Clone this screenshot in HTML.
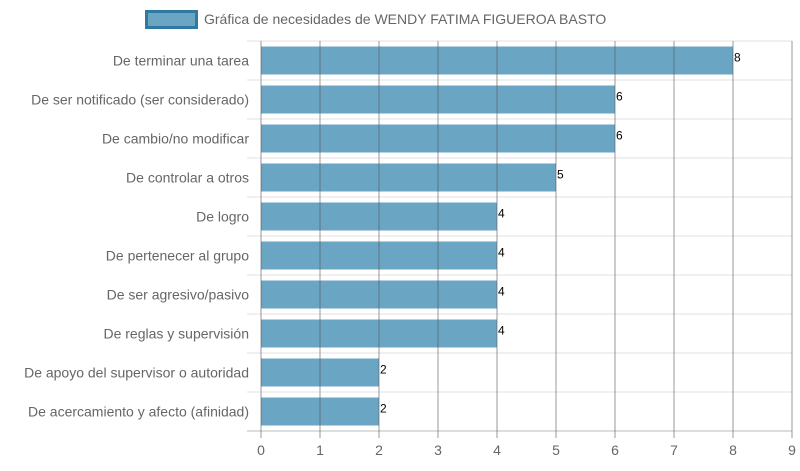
<!DOCTYPE html>
<html><head><meta charset="utf-8"><style>
body{margin:0;background:#fff;width:800px;height:466px;overflow:hidden}
text{font-family:"Liberation Sans",sans-serif}
</style></head><body>
<svg width="800" height="466">
<g>
<rect x="146.5" y="11.5" width="50" height="16" fill="#6aa5c4" stroke="#2e7aa0" stroke-width="3"/>
<text x="204" y="24" font-size="14" fill="#666">Gráfica de necesidades de WENDY FATIMA FIGUEROA BASTO</text>
</g>
<g id="grid"></g><g id="bars"></g><g id="labels"></g>
</svg>
<script>
const categories=["De terminar una tarea","De ser notificado (ser considerado)","De cambio/no modificar","De controlar a otros","De logro","De pertenecer al grupo","De ser agresivo/pasivo","De reglas y supervisión","De apoyo del supervisor o autoridad","De acercamiento y afecto (afinidad)"];
const values=[8,6,6,5,4,4,4,4,2,2];
const ticks=[0,1,2,3,4,5,6,7,8,9];
const NS="http://www.w3.org/2000/svg";
const x0=261,x1=792,yTop=41,yBot=431,xmax=9;
const xs=v=>x0+(x1-x0)*v/xmax;
const rowH=(yBot-yTop)/categories.length;
function mk(t,a,p){const e=document.createElementNS(NS,t);for(const k in a)e.setAttribute(k,a[k]);p.appendChild(e);return e;}
const g=document.getElementById('grid'),b=document.getElementById('bars'),l=document.getElementById('labels');
for(let i=0;i<=categories.length;i++){const y=yTop+i*rowH;
const ln=mk('line',{x1:247,x2:x1,y1:y,y2:y,stroke:i==categories.length?'#bbb':'#e2e2e2','stroke-width':1},g);

}
categories.forEach((c,i)=>{const y=yTop+(i+0.5)*rowH;
const r=mk('rect',{x:x0,y:y-14,width:xs(values[i])-x0,height:28,fill:'#6aa5c4'},b);


const t=mk('text',{x:249,y:y+5,'font-size':14,fill:'#666','text-anchor':'end'},l);t.textContent=c;


const v=mk('text',{x:xs(values[i])+1,y:y+1,'font-size':12,fill:'#000','font-family':'Liberation Serif'},l);v.textContent=values[i];

});
ticks.forEach(t=>{const x=xs(t);
const ln=mk('line',{x1:x,x2:x,y1:yTop,y2:yBot+7,stroke:'#555','stroke-opacity':0.6,'stroke-width':1},l);


const tx=mk('text',{x:x,y:455,'font-size':14,fill:'#666','text-anchor':'middle'},l);tx.textContent=t;

});
</script>
</body></html>
